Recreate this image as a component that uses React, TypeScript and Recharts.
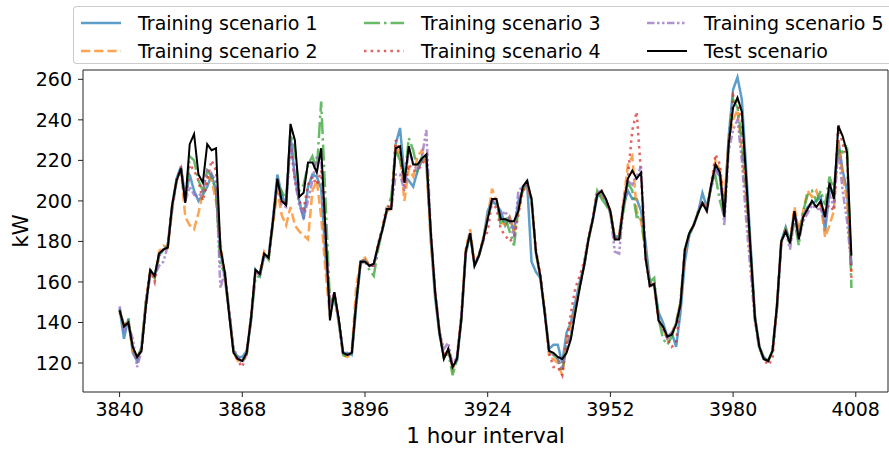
import { Line, LineChart, ReferenceLine, XAxis, YAxis } from "recharts";

// kW per hour (hours 3840..4007)
const testScenario = [
  146, 138, 140, 128, 123, 126, 148, 166, 163, 174,
  176, 177, 198, 210, 216, 199, 228, 233, 213, 209,
  228, 225, 226, 177, 165, 144, 125, 122, 121, 125,
  142, 166, 164, 174, 172, 190, 211, 200, 198, 238,
  230, 202, 204, 219, 219, 214, 226, 185, 141, 155,
  142, 125, 124, 125, 150, 170, 170, 168, 169, 178,
  186, 196, 196, 226, 227, 209, 227, 218, 218, 221,
  223, 185, 155, 135, 122, 127, 118, 122, 142, 175,
  184, 168, 173, 181, 191, 201, 201, 191, 191, 190,
  190, 195, 207, 210, 201, 175, 163, 145, 126, 125,
  123, 122, 125, 132, 145, 157, 168, 181, 191, 203,
  205, 201, 195, 181, 181, 198, 211, 215, 211, 214,
  172, 158, 159, 141, 138, 133, 134, 139, 149, 176,
  184, 188, 194, 199, 195, 208, 218, 214, 192, 228,
  246, 251, 244, 211, 175, 142, 128, 122, 121, 126,
  148, 180, 185, 179, 195, 181, 192, 196, 200, 197,
  200, 192, 209, 201, 237, 232, 224, 173,
];

const training1 = [
  147, 132, 142, 125, 121, 128, 150, 165, 163, 173,
  176, 178, 197, 211, 217, 201, 213, 205, 200, 203,
  207, 213, 205, 175, 162, 145, 126, 123, 123, 126,
  141, 166, 163, 173, 172, 191, 213, 203, 198, 232,
  212, 200, 191, 207, 213, 212, 206, 172, 148, 153,
  141, 125, 125, 124, 148, 170, 171, 168, 168, 178,
  186, 195, 197, 228, 236, 212, 210, 207, 215, 220,
  222, 182, 152, 134, 123, 126, 118, 121, 142, 174,
  184, 168, 173, 181, 195, 200, 198, 195, 188, 192,
  185, 200, 205, 209, 170, 165, 162, 145, 127, 129,
  129, 120, 135, 140, 150, 160, 168, 181, 191, 202,
  204, 200, 194, 182, 183, 198, 205, 201, 201, 195,
  180, 160, 158, 145, 140, 133, 135, 128, 145, 170,
  183, 188, 194, 204, 197, 207, 217, 212, 194, 232,
  255, 261, 250, 215, 178, 143, 128, 123, 121, 126,
  147, 180, 187, 180, 195, 185, 193, 197, 199, 200,
  202, 185, 205, 205, 230, 215, 205, 168,
];

const training2 = [
  146, 138, 141, 126, 122, 127, 150, 166, 162, 175,
  178, 177, 195, 210, 215, 192, 188, 186, 194, 204,
  212, 210, 200, 180, 163, 145, 125, 121, 122, 124,
  143, 165, 164, 175, 172, 188, 205, 193, 188, 197,
  188, 185, 183, 181, 205, 210, 192, 165, 143, 155,
  140, 124, 123, 126, 158, 170, 172, 168, 168, 178,
  187, 195, 196, 228, 222, 200, 216, 212, 222, 225,
  218, 180, 155, 136, 123, 127, 117, 123, 143, 176,
  186, 170, 173, 182, 192, 206, 200, 190, 188, 192,
  185, 195, 205, 207, 200, 175, 163, 146, 123, 122,
  120, 114, 130, 140, 146, 158, 168, 181, 191, 205,
  202, 200, 195, 182, 182, 200, 218, 222, 195, 190,
  175, 160, 158, 141, 137, 132, 135, 140, 150, 175,
  184, 188, 194, 199, 196, 208, 220, 215, 200, 230,
  240, 245, 225, 200, 170, 142, 128, 122, 121, 126,
  147, 180, 186, 180, 197, 185, 195, 205, 202, 205,
  198, 182, 188, 195, 230, 212, 200, 165,
];

const training3 = [
  146, 139, 141, 127, 123, 127, 149, 165, 162, 173,
  176, 178, 198, 210, 216, 200, 222, 220, 210, 205,
  215, 212, 205, 168, 165, 145, 126, 122, 121, 124,
  142, 162, 163, 174, 171, 190, 208, 205, 200, 235,
  225, 205, 208, 218, 222, 215, 249, 200, 150, 153,
  141, 124, 123, 126, 150, 170, 170, 166, 163, 176,
  186, 196, 202, 225, 220, 210, 231, 225, 215, 222,
  220, 185, 155, 135, 123, 125, 114, 122, 142, 175,
  184, 168, 173, 181, 191, 200, 200, 188, 192, 185,
  178, 196, 206, 209, 201, 175, 163, 146, 126, 124,
  122, 116, 128, 133, 146, 158, 168, 181, 191, 205,
  201, 198, 194, 181, 181, 195, 209, 205, 192, 192,
  175, 160, 162, 142, 132, 129, 133, 140, 150, 176,
  184, 188, 194, 199, 196, 207, 212, 200, 192, 230,
  250, 246, 230, 205, 175, 142, 127, 122, 121, 126,
  148, 180, 186, 179, 190, 178, 195, 203, 205, 200,
  205, 198, 212, 205, 225, 224, 228, 157,
];

const training4 = [
  145, 139, 140, 128, 122, 127, 150, 166, 160, 173,
  176, 178, 198, 211, 216, 200, 218, 215, 210, 200,
  210, 220, 215, 175, 165, 146, 126, 121, 118, 125,
  143, 166, 163, 174, 172, 191, 210, 198, 200, 228,
  210, 200, 196, 208, 212, 208, 215, 180, 150, 154,
  142, 125, 124, 125, 152, 170, 171, 168, 168, 179,
  187, 198, 196, 230, 225, 207, 218, 215, 215, 218,
  222, 185, 156, 136, 123, 127, 118, 123, 144, 176,
  184, 169, 173, 181, 185, 200, 196, 186, 183, 180,
  182, 193, 205, 208, 201, 176, 164, 146, 125, 118,
  118, 114, 130, 145, 157, 163, 170, 182, 192, 204,
  205, 200, 195, 181, 182, 200, 212, 235, 244, 213,
  172, 158, 159, 141, 137, 132, 128, 130, 150, 176,
  184, 188, 194, 199, 195, 208, 223, 218, 195, 228,
  252, 248, 240, 205, 175, 142, 128, 122, 119, 122,
  148, 180, 186, 179, 195, 182, 192, 196, 199, 197,
  198, 195, 198, 195, 238, 228, 222, 162,
];

const training5 = [
  148, 136, 139, 132, 118, 126, 147, 164, 163, 168,
  170, 178, 197, 210, 216, 200, 207, 203, 202, 205,
  215, 213, 210, 157, 165, 145, 127, 123, 120, 125,
  141, 165, 164, 173, 172, 190, 210, 198, 197, 232,
  210, 198, 192, 200, 210, 222, 220, 185, 148, 155,
  141, 125, 124, 125, 149, 169, 170, 168, 168, 178,
  186, 195, 196, 213, 213, 205, 226, 218, 215, 222,
  235, 185, 155, 135, 127, 130, 119, 123, 142, 174,
  184, 168, 173, 180, 191, 200, 200, 192, 195, 190,
  182, 205, 207, 209, 200, 174, 163, 145, 126, 124,
  122, 117, 128, 135, 146, 157, 168, 181, 191, 205,
  204, 200, 194, 175, 174, 198, 210, 208, 212, 217,
  175, 158, 158, 141, 137, 132, 135, 139, 149, 176,
  183, 188, 195, 200, 195, 207, 215, 212, 188, 225,
  235, 240, 220, 190, 165, 140, 127, 122, 121, 126,
  147, 179, 185, 176, 192, 181, 190, 194, 198, 196,
  196, 190, 203, 197, 225, 205, 190, 168,
];

const startHour = 3840;
const xTicks = [3840, 3868, 3896, 3924, 3952, 3980, 4008];
const yTicks = [120, 140, 160, 180, 200, 220, 240, 260];

const FONT = "'DejaVu Sans', sans-serif";
const LW = 2.5;

const series = [
  { key: "s1", name: "Training scenario 1", color: "#1f77b4", dash: undefined, width: LW, opacity: 0.72 },
  { key: "s2", name: "Training scenario 2", color: "#ff7f0e", dash: "9.2 4", width: LW, opacity: 0.72 },
  { key: "s3", name: "Training scenario 3", color: "#2ca02c", dash: "16 4 2.5 4", width: LW, opacity: 0.72 },
  { key: "s4", name: "Training scenario 4", color: "#d62728", dash: "2.5 4.1", width: LW, opacity: 0.72 },
  { key: "s5", name: "Training scenario 5", color: "#9467bd", dash: "7.5 2.5 2.5 2.5 2.5 2.5", width: LW, opacity: 0.72 },
  { key: "test", name: "Test scenario", color: "#000000", dash: undefined, width: 2, opacity: 1 },
];

const chartData = testScenario.map((v, i) => ({
  hour: startHour + i,
  s1: training1[i],
  s2: training2[i],
  s3: training3[i],
  s4: training4[i],
  s5: training5[i],
  test: v,
}));

// legend columns in matplotlib order (ncol=3, column-major)
const legendCols = [
  { x: 80, items: [series[0], series[1]] },
  { x: 363, items: [series[2], series[3]] },
  { x: 646, items: [series[4], series[5]] },
];

function LegendBox() {
  return (
    <div
      style={{
        position: "absolute",
        left: 73,
        top: 6,
        width: 816,
        height: 58,
        boxSizing: "border-box",
        border: "1px solid #cccccc",
        borderRight: "none",
        borderRadius: "4px 0 0 4px",
        background: "rgba(255,255,255,0.8)",
        fontFamily: FONT,
        fontSize: 19,
        color: "#000",
      }}
    >
      {legendCols.map((col) =>
        col.items.map((s, row) => (
          <div
            key={s.key}
            style={{
              position: "absolute",
              left: col.x - 73,
              top: 16 + row * 28 - 12,
              height: 24,
              display: "flex",
              alignItems: "center",
              whiteSpace: "nowrap",
            }}
          >
            <svg width={40} height={10} style={{ marginRight: 17 }}>
              <line
                x1={0}
                y1={5}
                x2={40}
                y2={5}
                stroke={s.color}
                strokeOpacity={s.opacity}
                strokeWidth={s.width}
                strokeDasharray={s.dash}
              />
            </svg>
            <span>{s.name}</span>
          </div>
        ))
      )}
    </div>
  );
}

export default function App() {
  return (
    <div style={{ position: "absolute", left: 0, top: 0, width: 889, height: 450, background: "#fff" }}>
      <LineChart width={889} height={450} data={chartData} margin={{ top: 70, right: 1, bottom: 0, left: 0 }}>
        <XAxis
          dataKey="hour"
          type="number"
          domain={[3831.65, 4015.35]}
          ticks={xTicks}
          allowDataOverflow
          height={58}
          tickSize={5}
          tickMargin={6}
          stroke="#222"
          tick={{ fill: "#000", fontSize: 19, fontFamily: FONT }}
          label={{
            content: ({ viewBox }: any) => (
              <text
                x={viewBox.x + viewBox.width / 2}
                y={443}
                textAnchor="middle"
                fontSize={21.5}
                fontFamily={FONT}
                fill="#000"
              >
                1 hour interval
              </text>
            ),
          }}
        />
        <YAxis
          type="number"
          domain={[105.7, 264.6]}
          ticks={yTicks}
          allowDataOverflow
          width={83}
          tickSize={5}
          tickMargin={6}
          stroke="#222"
          tick={{ fill: "#000", fontSize: 19, fontFamily: FONT }}
          label={{
            content: ({ viewBox }: any) => (
              <text
                x={28}
                y={viewBox.y + viewBox.height / 2}
                transform={`rotate(-90, 28, ${viewBox.y + viewBox.height / 2})`}
                textAnchor="middle"
                fontSize={21.5}
                fontFamily={FONT}
                fill="#000"
              >
                kW
              </text>
            ),
          }}
        />
        <ReferenceLine y={264.6} stroke="#222" strokeWidth={1} />
        <ReferenceLine x={4015.35} stroke="#222" strokeWidth={1} />
        {series.map((s) => (
          <Line
            key={s.key}
            type="linear"
            dataKey={s.key}
            name={s.name}
            stroke={s.color}
            strokeOpacity={s.opacity}
            strokeWidth={s.width}
            strokeDasharray={s.dash}
            dot={false}
            activeDot={false}
            isAnimationActive={false}
          />
        ))}
      </LineChart>
      <LegendBox />
    </div>
  );
}
